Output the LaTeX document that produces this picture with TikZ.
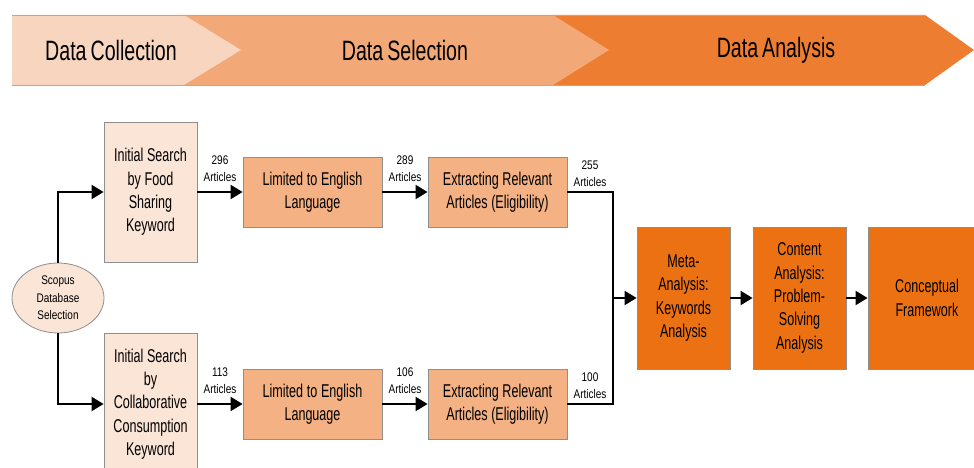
\documentclass[tikz,border=0pt]{standalone}
\usepackage{fontspec}
\setmainfont{Liberation Sans}[FakeStretch=0.68, WordSpace=1.05]
\newfontfamily\banfont{Liberation Sans}[FakeStretch=0.70, WordSpace=0.75]
\newfontfamily\smallfont{Liberation Sans}[FakeStretch=0.8, WordSpace=0.75]
\usetikzlibrary{shapes.geometric,arrows.meta}
\definecolor{banA}{HTML}{F8D5BE}
\definecolor{banB}{HTML}{F2A877}
\definecolor{banC}{HTML}{ED7D31}
\definecolor{boxA}{HTML}{FBE5D6}
\definecolor{boxB}{HTML}{F4B183}
\definecolor{boxC}{HTML}{EC7112}
\definecolor{edge}{HTML}{8F8F8F}
\tikzset{
  bx/.style={draw=edge, line width=0.8pt, align=center, inner sep=2pt,
    font=\fontsize{18.5}{23.3}\selectfont},
  initbox/.style={bx, fill=boxA, minimum width=93pt, minimum height=140pt},
  selbox/.style={bx, fill=boxB, minimum width=139pt, minimum height=70pt},
  anbox/.style={bx, fill=boxC, minimum width=93pt, minimum height=142pt},
  lbl/.style={font=\smallfont\fontsize{12.5}{17}\selectfont, align=center, inner sep=1pt},
  bantxt/.style={font=\banfont\fontsize{28}{30}\selectfont},
  line/.style={line width=2pt, line join=miter},
  conn/.style={line, -{Triangle[length=12pt,width=14pt]}},
}
\begin{document}
\begin{tikzpicture}[x=1pt,y=-1pt]
\clip (0,0) rectangle (974,468);
\fill[white] (0,0) rectangle (974,468);
% banner
\fill[banC] (553,15) -- (925,15) -- (974,50) -- (925,85) -- (553,85) -- cycle;
\fill[banB] (184,15) -- (553,15) -- (609,50) -- (553,85) -- (184,85) -- cycle;
\fill[banA] (12,15) -- (184,15) -- (241,50) -- (184,85) -- (12,85) -- cycle;
\draw[banC!70!banA, line width=0.6pt] (12,15) -- (925,15) (12,85) -- (925,85);
\node[bantxt] (b1) at (111,50) {Data Collection};
\node[bantxt] (b2) at (405,50) {Data Selection};
\node[bantxt] (b3) at (776,50) {Data Analysis};
% nodes
\node[ellipse, draw=edge, line width=0.8pt, fill=boxA, minimum width=92pt, minimum height=70pt,
  inner sep=0pt, align=center, font=\smallfont\fontsize{12.5}{17.5}\selectfont] (scop) at (58,298)
  {Scopus\\Database\\Selection};
\node[initbox] (i1) at (150.5,192) {Initial Search\\by Food\\Sharing\\Keyword};
\node[initbox, minimum height=142pt] (i2) at (150.5,404) {Initial Search\\by\\Collaborative\\Consumption\\Keyword};
\node[selbox] (l1) at (312.5,192) {Limited to English\\Language};
\node[selbox] (e1) at (497.5,192) {Extracting Relevant\\Articles (Eligibility)};
\node[selbox] (l2) at (312.5,404) {Limited to English\\Language};
\node[selbox] (e2) at (497.5,404) {Extracting Relevant\\Articles (Eligibility)};
\node[anbox] (m) at (683.5,298) {Meta-\\Analysis:\\Keywords\\Analysis};
\node[anbox] (c) at (799.5,298) {Content\\Analysis:\\Problem-\\Solving\\Analysis};
\node[anbox, minimum width=118pt] (f) at (927,298) {Conceptual\\Framework};
\coordinate (j) at (613,298);
% connectors
\draw[conn] (scop.north) |- (i1.west);
\draw[conn] (scop.south) |- (i2.west);
\draw[conn] (i1) -- node[lbl, above=8pt] {296\\Articles} (l1);
\draw[conn] (l1) -- node[lbl, above=8pt] {289\\Articles} (e1);
\draw[conn] (i2) -- node[lbl, above=8pt] {113\\Articles} (l2);
\draw[conn] (l2) -- node[lbl, above=8pt] {106\\Articles} (e2);
\draw[line] (e1.east) -| (j);
\node[lbl, above=4pt] (t255) at (590,192) {255\\Articles};
\draw[line] (e2.east) -| (j);
\node[lbl, above=4pt] (t100) at (590,404) {100\\Articles};
\draw[conn] (j) -- (m.west);
\draw[conn] (m) -- (c);
\draw[conn] (c) -- (f);
\end{tikzpicture}
\end{document}
